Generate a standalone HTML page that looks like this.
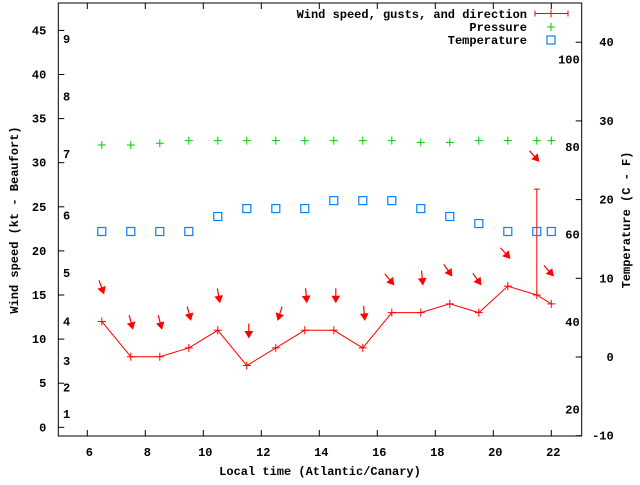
<!DOCTYPE html>
<html><head><meta charset="utf-8"><style>
body{margin:0;background:#fff}
svg text{font-family:"Liberation Mono",monospace;font-weight:bold;font-size:12px;fill:#000}
</style></head><body>
<svg xmlns="http://www.w3.org/2000/svg" width="640" height="480" viewBox="0 0 640 480">
<g id="axes"></g><g id="marks"></g><g id="legend"></g>
</svg>
<script>
const times=[6.5,7.5,8.5,9.5,10.5,11.5,12.5,13.5,14.5,15.5,16.5,17.5,18.5,19.5,20.5,21.5,22];
const wind=[12,8,8,9,11,7,9,11,11,9,13,13,14,13,16,15,14];
const gusts=[null,null,null,null,null,null,null,null,null,null,null,null,null,null,null,27,null];
const dirs=[340,345,345,345,350,0,18,355,0,355,320,355,325,325,318,318,318];
const pressure=[32,32,32.2,32.5,32.5,32.5,32.5,32.5,32.5,32.5,32.5,32.3,32.3,32.5,32.5,32.5,32.5];
const temperature=[22.2,22.2,22.2,22.2,23.9,24.8,24.8,24.8,25.7,25.7,25.7,24.8,23.9,23.1,22.2,22.2,22.2];
const xTicks=[6,8,10,12,14,16,18,20,22];
const yTicks=[0,5,10,15,20,25,30,35,40,45];
const y2Ticks=[-10,0,10,20,30,40];
const fTicks=[20,40,60,80,100];
const bftLabels=[1,2,3,4,5,6,7,8,9];
const bftKt=[1.5,4.5,7.5,12,17.5,24,31,37.5,44];

const L=58.3,R=581.7,T=3,B=436;
const X=t=>87.3+(t-6)*29.0;
const Y=v=>427.3-v*8.82;
const Y2=c=>357-c*7.87;
const NS="http://www.w3.org/2000/svg";
function mk(tag,parent,attrs){const e=document.createElementNS(NS,tag);for(const k in attrs)e.setAttribute(k,attrs[k]);parent.appendChild(e);return e;}
const ax=document.getElementById('axes'),mg=document.getElementById('marks'),lg=document.getElementById('legend');

let fr=mk('rect',ax,{x:L,y:T,width:R-L,height:B-T,fill:'none',stroke:'#000','stroke-width':1});


xTicks.forEach(t=>{
 let l=mk('path',ax,{d:`M${X(t)},${B}v-6M${X(t)},${T}v6`,stroke:'#000'});
 
 
 let tx=mk('text',ax,{x:X(t)+2,y:B+20,'text-anchor':'middle'});tx.textContent=t;
 
 
});
yTicks.forEach(v=>{
 let l=mk('path',ax,{d:`M${L},${Y(v)}h6`,stroke:'#000'});
 
 
 let tx=mk('text',ax,{x:L-12,y:Y(v)+4,'text-anchor':'end'});tx.textContent=v;
 
 
});
y2Ticks.forEach(c=>{
 let l=mk('path',ax,{d:`M${R},${Y2(c)}h-6`,stroke:'#000'});
 
 
 let tx=mk('text',ax,{x:R+32,y:Y2(c)+4,'text-anchor':'end'});tx.textContent=c;
 
 
});
fTicks.forEach(f=>{
 let tx=mk('text',ax,{x:R-2,y:Y2((f-32)*5/9)+4,'text-anchor':'end'});tx.textContent=f;
 
 
});
bftLabels.forEach((b,i)=>{
 let tx=mk('text',ax,{x:63,y:Y(bftKt[i])+4});tx.textContent=b;
 
 
});
let xt=mk('text',ax,{x:320,y:475,'text-anchor':'middle'});xt.textContent='Local time (Atlantic/Canary)';


let yt=mk('text',ax,{x:0,y:0,'text-anchor':'middle',transform:'translate(18,220) rotate(-90)'});yt.textContent='Wind speed (kt - Beaufort)';


let y2t=mk('text',ax,{x:0,y:0,'text-anchor':'middle',transform:'translate(630,220) rotate(-90)'});y2t.textContent='Temperature (C - F)';



// wind line
let pl=mk('polyline',mg,{points:times.map((t,i)=>X(t)+','+Y(wind[i])).join(' '),fill:'none',stroke:'#f00'});


function plus(g,x,y,c){return mk('path',g,{d:`M${x-4},${y}h8M${x},${y-4}v8`,stroke:c,'stroke-width':1});}
times.forEach((t,i)=>{
 let p=plus(mg,X(t),Y(wind[i]),'#f00');
 
 
 if(gusts[i]!=null){
  let e=mk('path',mg,{d:`M${X(t)},${Y(wind[i])}V${Y(gusts[i])}M${X(t)-3},${Y(gusts[i])}h6`,stroke:'#f00'});
  
  
 }
 const base=gusts[i]!=null?gusts[i]:wind[i];
 const tipX=X(t)+2,tipY=Y(base)-28;
 const a=dirs[i]*Math.PI/180; // direction wind comes from; arrow points toward opposite
 const ux=-Math.sin(a),uy=Math.cos(a); // screen unit vector of travel
 const len=14,tx0=tipX-ux*len,ty0=tipY-uy*len;
 const hx=tipX-ux*6,hy=tipY-uy*6,px=-uy*3.5,py=ux*3.5;
 let ar=mk('g',mg,{});
 
 
 mk('line',ar,{x1:tx0,y1:ty0,x2:hx,y2:hy,stroke:'#f00','stroke-width':1.2});
 mk('polygon',ar,{points:`${tipX},${tipY} ${hx+px},${hy+py} ${hx-px},${hy-py}`,fill:'#f00',stroke:'#f00'});
 let pp=plus(mg,X(t),Y(pressure[i]),'#0c0');
 
 
 let sq=mk('rect',mg,{x:X(t)-4,y:Y(temperature[i])-4,width:8,height:8,fill:'none',stroke:'#0a7fff','stroke-width':1.2});
 
 
});

// legend
const legendNames=['Wind speed, gusts, and direction','Pressure','Temperature'];
legendNames.forEach((n,i)=>{
 const y=14+i*13;
 let tx=mk('text',lg,{x:527,y:y+4,'text-anchor':'end'});tx.textContent=n;
 
 
});
let le=mk('path',lg,{d:'M535,13.5h33M535,10.5v6M568,10.5v6M551,9.5v8',stroke:'#f00'});


let lp=plus(lg,551,27,'#0c0');


let ls=mk('rect',lg,{x:547,y:36,width:8,height:8,fill:'none',stroke:'#0a7fff','stroke-width':1.2});


</script>
</body></html>
